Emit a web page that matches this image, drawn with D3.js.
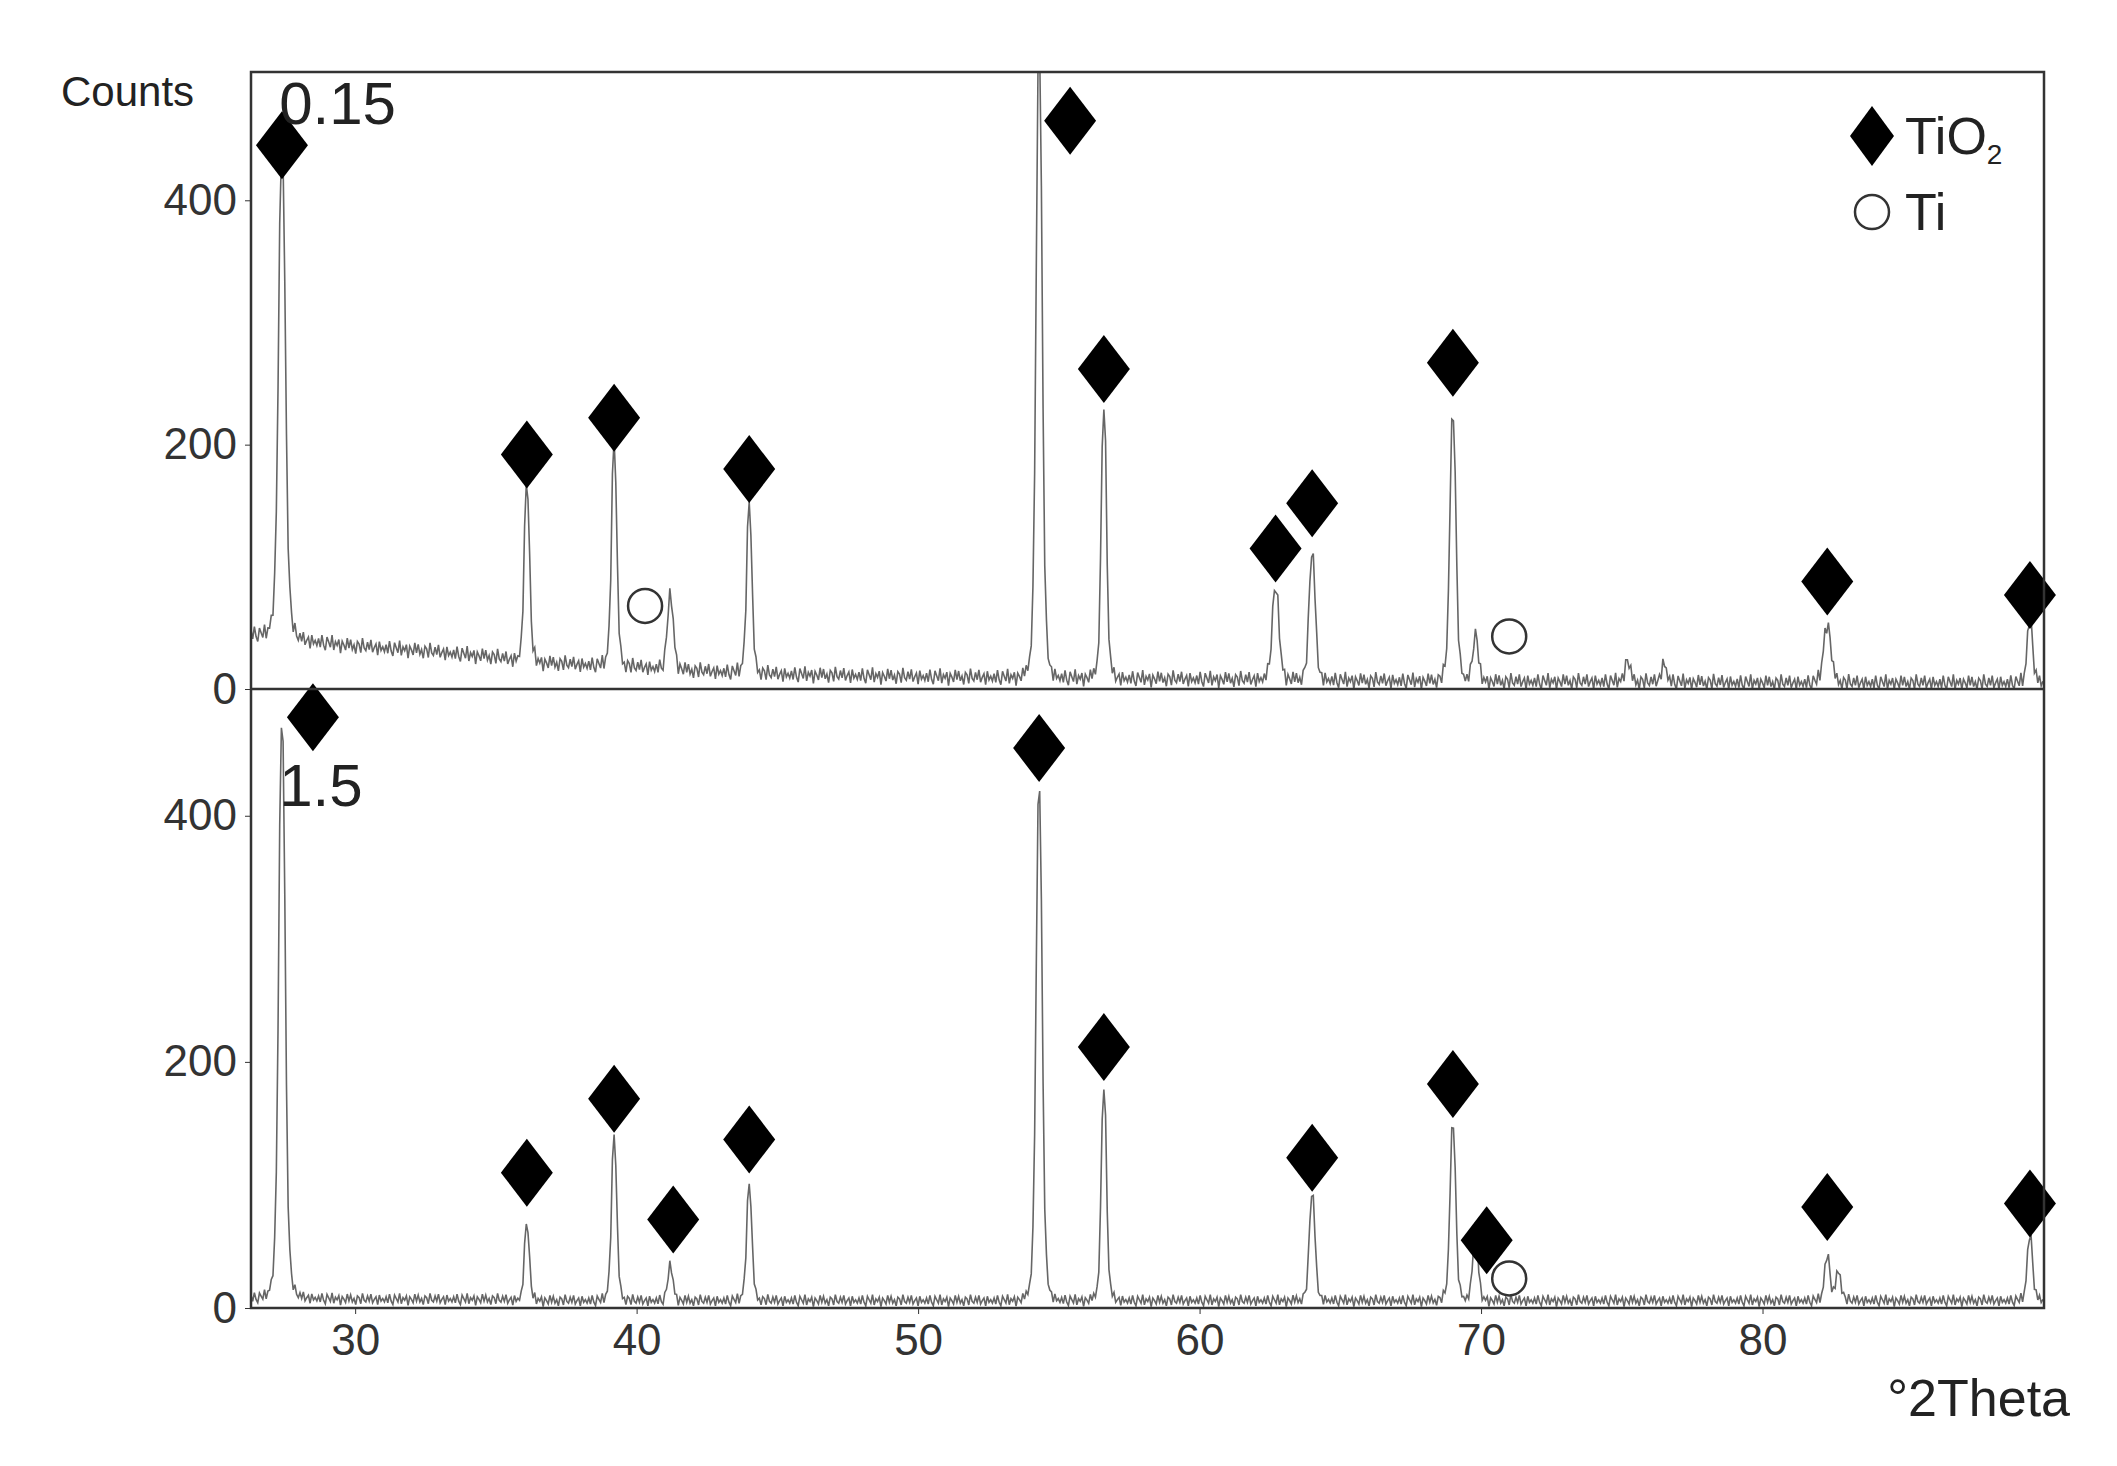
<!DOCTYPE html>
<html><head><meta charset="utf-8">
<script src="https://cdn.jsdelivr.net/npm/d3@7"></script>
<style>body{margin:0;background:#fff}text{font-family:Arial,"Liberation Sans",sans-serif}</style>
</head><body><svg id="c" width="2117" height="1466"></svg>
<script>
// ---- data ----
const xTicks = [30,40,50,60,70,80];
const yTicks = [0,200,400];
const bgPos = [26.3,28,30,32,34,35,36,38,40,42,45,50,55,60,65,70,75,80,85,90];
const bgTop = [45,40,35,32,28,26,22,20,18,15,12,10,9,8,7,6,6,5,5,5];
const bgBottom = [8,8,7,7,7,7,6,6,6,6,6,6,6,6,6,6,6,6,6,6];
const noise = [3,-4,6,-2,-6,5,1,-3,7,-5,2,-1,4,-7,3,0,-4,6,-2,5,-3,1,-6,4,2,-5,7,-1,-3,4,-2,6,-4,0,3,-6,5,-2,1,-3];
// peaks: [2theta, height, halfwidth]
const peaksTop = [[27.4,400,0.16],[36.1,150,0.12],[39.2,185,0.12],[41.2,60,0.14],[44.0,140,0.12],[54.3,520,0.14],[56.6,225,0.12],[62.7,75,0.16],[64.0,105,0.14],[69.0,220,0.14],[69.8,38,0.13],[75.2,18,0.12],[76.5,15,0.12],[82.3,48,0.17],[89.5,55,0.12]];
const peaksBottom = [[27.4,470,0.15],[36.1,65,0.11],[39.2,135,0.12],[41.2,28,0.12],[44.0,95,0.12],[54.3,420,0.14],[56.6,175,0.12],[64.0,88,0.13],[69.0,145,0.13],[69.8,60,0.12],[82.3,38,0.12],[82.7,24,0.12],[89.5,55,0.12]];
const diamondsTop = [[27.4,445],[36.1,192],[39.2,222],[44.0,180],[55.4,465],[56.6,262],[62.7,115],[64.0,152],[69.0,267],[82.3,88],[89.5,77]];
const circlesTop = [[40.3,68],[71.0,43]];
const diamondsBottom = [[28.5,480],[36.1,110],[39.2,170],[41.3,72],[44.0,137],[54.3,455],[56.6,212],[64.0,122],[69.0,182],[70.2,55],[82.3,82],[89.5,85]];
const circlesBottom = [[71.0,24]];
const panelLabels = ["0.15","1.5"];

// ---- layout ----
const svg = d3.select("#c");
const L=251,R=2044,T=72,M=689,B=1308;
const x = d3.scaleLinear().domain([26.3,90]).range([L,R]);
const yTop = d3.scaleLinear().domain([0,505]).range([M,T]);
const yBot = d3.scaleLinear().domain([0,503]).range([B,M]);

function profile(peaks,bg,amp){
  const bgS = d3.scaleLinear().domain(bgPos).range(bg);
  const pts=[];let i=0;
  for(let t=26.3;t<=90.001;t+=0.06,i++){
    let v=bgS(t)+noise[i%noise.length]*amp;
    for(const [p,h,w] of peaks){const d=(t-p)/w;v+=h/(1+d*d*d*d*0.8+d*d*0.6);}
    pts.push([t,Math.max(0,v)]);
  }
  return pts;
}
svg.append("clipPath").attr("id","ct").append("rect").attr("x",L).attr("y",T).attr("width",R-L).attr("height",M-T);
svg.append("clipPath").attr("id","cb").append("rect").attr("x",L).attr("y",M).attr("width",R-L).attr("height",B-M);

function panel(y,peaks,bg,amp,clip,dia,cir,label,ly){
  const line=d3.line().x(d=>x(d[0])).y(d=>y(d[1]));
  svg.append("path").datum(profile(peaks,bg,amp)).attr("d",line).attr("clip-path",`url(#${clip})`)
    .attr("fill","none").attr("stroke","#666").attr("stroke-width",1.6);
  const ax=svg.append("g").attr("transform",`translate(${L},0)`).call(d3.axisLeft(y).tickValues(yTicks).tickSize(6).tickPadding(8));
  ax.select(".domain").remove();
  ax.selectAll("text").attr("font-size",44).attr("fill","#333");
  ax.selectAll("line").attr("stroke","#333");
  svg.selectAll(null).data(dia).enter().append("path")
    .attr("d","M0,-34L26,0L0,34L-26,0Z").attr("transform",d=>`translate(${x(d[0])},${y(d[1])})`).attr("fill","#000");
  svg.selectAll(null).data(cir).enter().append("circle")
    .attr("cx",d=>x(d[0])).attr("cy",d=>y(d[1])).attr("r",17).attr("fill","#fff").attr("stroke","#333").attr("stroke-width",2.5);
  svg.append("text").attr("x",x(27.3)).attr("y",ly).attr("font-size",60).attr("fill","#222").text(label);
}
panel(yTop,peaksTop,bgTop,1,"ct",diamondsTop,circlesTop,panelLabels[0],124);
panel(yBot,peaksBottom,bgBottom,0.7,"cb",diamondsBottom,circlesBottom,panelLabels[1],806);

svg.append("rect").attr("x",L).attr("y",T).attr("width",R-L).attr("height",B-T).attr("fill","none").attr("stroke","#333").attr("stroke-width",2.5);
svg.append("line").attr("x1",L).attr("x2",R).attr("y1",M).attr("y2",M).attr("stroke","#333").attr("stroke-width",2.5);

const xa=svg.append("g").attr("transform",`translate(0,${B})`).call(d3.axisBottom(x).tickValues(xTicks).tickSize(6).tickPadding(10));
xa.select(".domain").remove();
xa.selectAll("text").attr("font-size",44).attr("fill","#333");
xa.selectAll("line").attr("stroke","#333");

svg.append("text").attr("x",61).attr("y",106).attr("font-size",42).attr("fill","#222").text("Counts");
svg.append("text").attr("x",2070).attr("y",1416).attr("text-anchor","end").attr("font-size",52).attr("fill","#222").text("°2Theta");

svg.append("path").attr("d","M0,-30L22,0L0,30L-22,0Z").attr("transform","translate(1872,136)").attr("fill","#000");
const lt=svg.append("text").attr("x",1905).attr("y",154).attr("font-size",52).attr("fill","#222").text("TiO");
lt.append("tspan").attr("font-size",28).attr("dy",10).text("2");
svg.append("circle").attr("cx",1872).attr("cy",212).attr("r",17).attr("fill","#fff").attr("stroke","#333").attr("stroke-width",2.5);
svg.append("text").attr("x",1905).attr("y",230).attr("font-size",52).attr("fill","#222").text("Ti");
</script></body></html>
